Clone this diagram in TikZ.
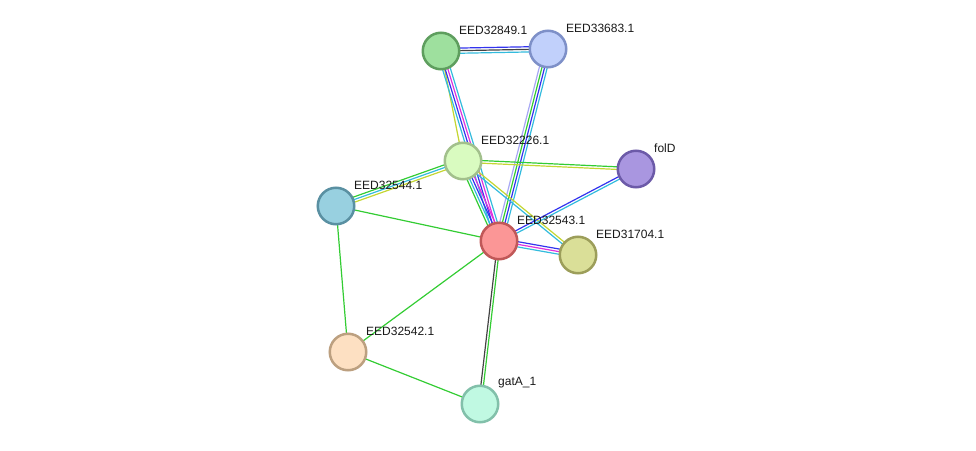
\documentclass[tikz,border=0pt]{standalone}
\usepackage{fontspec}
\setmainfont{Liberation Sans}
\usetikzlibrary{calc,backgrounds}
\definecolor{lgreen}{HTML}{33CC33}
\definecolor{lcyan}{HTML}{33BBDD}
\definecolor{lblue}{HTML}{3333EE}
\definecolor{lmagenta}{HTML}{DD33DD}
\definecolor{ltext}{HTML}{C4D632}
\definecolor{lgray}{HTML}{444444}
\definecolor{lpurple}{HTML}{A8A8F4}
% node fill / rim colours
\definecolor{f32849}{HTML}{9EE09E}\definecolor{d32849}{HTML}{5E9E5E}
\definecolor{f33683}{HTML}{C1D0FB}\definecolor{d33683}{HTML}{7E90C8}
\definecolor{f32226}{HTML}{D9FBC0}\definecolor{d32226}{HTML}{A2C08C}
\definecolor{ffolD}{HTML}{A996E0}\definecolor{dfolD}{HTML}{6C5AA8}
\definecolor{f32544}{HTML}{98D0E0}\definecolor{d32544}{HTML}{5A90A2}
\definecolor{f32543}{HTML}{FB9696}\definecolor{d32543}{HTML}{C05858}
\definecolor{f31704}{HTML}{DADF98}\definecolor{d31704}{HTML}{9C9E5A}
\definecolor{f32542}{HTML}{FDE0C2}\definecolor{d32542}{HTML}{BCA080}
\definecolor{fgatA}{HTML}{C0F9E2}\definecolor{dgatA}{HTML}{82C0AA}
% parallel coloured lines between two nodes
\newcommand{\edgelines}[4]{%
  \foreach \col [count=\k] in {#4}{%
    \pgfmathsetmacro{\off}{(\k-(#3+1)/2)*2.6}
    \draw[link,\col] ($(#1)!\off pt!90:(#2)$) -- ($(#2)!\off pt!-90:(#1)$);
  }}

\begin{document}
\begin{tikzpicture}[x=1pt,y=1pt,
  prot/.style={circle, minimum size=36.5pt, inner sep=0pt, line width=2.5pt, fill=f#1, draw=d#1},
  lbl/.style={anchor=west, inner sep=0pt, font=\fontsize{12}{14}\selectfont, text=black!90},
  link/.style={line width=1.2pt}]
\useasboundingbox (0,0) rectangle (976,450);
\node[prot=32849] (p32849) at (441,399) {};
\node[prot=33683] (p33683) at (548,401) {};
\node[prot=32226] (p32226) at (463,289) {};
\node[prot=folD] (pfolD) at (636,281) {};
\node[prot=32544] (p32544) at (336,244) {};
\node[prot=32543] (p32543) at (499,209) {};
\node[prot=31704] (p31704) at (578,195) {};
\node[prot=32542] (p32542) at (348,98) {};
\node[prot=gatA] (pgatA) at (480,46) {};

\node[lbl] (l32849) at ([shift={(18,21)}]p32849.center) {EED32849.1};
\node[lbl] (l33683) at ([shift={(18,21)}]p33683.center) {EED33683.1};
\node[lbl] (l32226) at ([shift={(18,21)}]p32226.center) {EED32226.1};
\node[lbl] (lfolD) at ([shift={(18,21)}]pfolD.center) {folD};
\node[lbl] (l32544) at ([shift={(18,21)}]p32544.center) {EED32544.1};
\node[lbl] (l32543) at ([shift={(18,21)}]p32543.center) {EED32543.1};
\node[lbl] (l31704) at ([shift={(18,21)}]p31704.center) {EED31704.1};
\node[lbl] (l32542) at ([shift={(18,21)}]p32542.center) {EED32542.1};
\node[lbl] (lgatA) at ([shift={(18,21)}]pgatA.center) {gatA\_1};

\begin{scope}[on background layer]
\edgelines{p32849}{p33683}{3}{lcyan,lgray,lblue}
\edgelines{p32849}{p32226}{1}{ltext}
\edgelines{p32849}{p32543}{4}{lcyan,lblue,lmagenta,lcyan}
\edgelines{p33683}{p32543}{4}{lpurple,lgreen,lblue,lcyan}
\edgelines{p32226}{pfolD}{2}{ltext,lgreen}
\edgelines{p32226}{p32544}{3}{lgreen,lcyan,ltext}
\edgelines{p32226}{p32543}{4}{lgreen,lcyan,lblue,lmagenta}
\edgelines{p32226}{p31704}{2}{lcyan,ltext}
\edgelines{p32543}{pfolD}{2}{lcyan,lblue}
\edgelines{p32543}{p31704}{3}{lcyan,lmagenta,lblue}
\edgelines{p32543}{p32544}{1}{lgreen}
\edgelines{p32543}{p32542}{1}{lgreen}
\edgelines{p32543}{pgatA}{2}{lgray,lgreen}
\edgelines{p32544}{p32542}{1}{lgreen}
\edgelines{p32542}{pgatA}{1}{lgreen}
\end{scope}
\end{tikzpicture}
\end{document}
